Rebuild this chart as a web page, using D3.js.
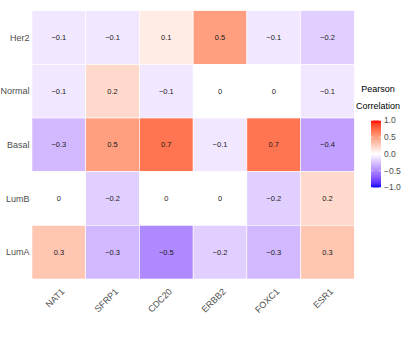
<!DOCTYPE html>
<html><head><meta charset="utf-8">
<script src="https://cdn.jsdelivr.net/npm/d3@7"></script>
<style>
body{margin:0;background:#fff;}
text{font-family:"Liberation Sans",Arial,Helvetica,sans-serif;}
</style></head>
<body><svg id="chart" width="415" height="342"></svg>
<script>
const genes = ["NAT1","SFRP1","CDC20","ERBB2","FOXC1","ESR1"];
const subtypes = ["Her2","Normal","Basal","LumB","LumA"];
const her2   = [-0.1,-0.1, 0.1, 0.5,-0.1,-0.2];
const normal = [-0.1, 0.2,-0.1, 0.0, 0.0,-0.1];
const basal  = [-0.3, 0.5, 0.7,-0.1, 0.7,-0.4];
const lumB   = [ 0.0,-0.2, 0.0, 0.0,-0.2, 0.2];
const lumA   = [ 0.3,-0.3,-0.5,-0.2,-0.3, 0.3];
const legendTicks = [-1.0,-0.5,0.0,0.5,1.0];

const rowsData = [her2, normal, basal, lumB, lumA];
const cells = [];
subtypes.forEach((s,i)=>genes.forEach((g,j)=>cells.push({row:s,col:g,v:rowsData[i][j]})));

const svg = d3.select("#chart");
const x = d3.scaleBand().domain(genes).range([32,354.3]);
const y = d3.scaleBand().domain(subtypes).range([10.7,279]);
const color = d3.scaleLinear().domain([-1,0,1]).range(["blue","white","red"]).interpolate(d3.interpolateLab);
const fmt = v => v===0 ? "0" : (v<0?"\u2212":"") + Math.abs(v).toFixed(1);

svg.append("g").selectAll("rect").data(cells).join("rect")
  .attr("x",d=>x(d.col)).attr("y",d=>y(d.row))
  .attr("width",x.bandwidth()).attr("height",y.bandwidth())
  .attr("fill",d=>color(d.v)).attr("stroke","#fff").attr("stroke-width",0.6);

svg.append("g").selectAll("text").data(cells).join("text")
  .attr("x",d=>x(d.col)+x.bandwidth()/2).attr("y",d=>y(d.row)+y.bandwidth()/2)
  .attr("text-anchor","middle").attr("dy","0.35em")
  .attr("font-size",7.5).attr("fill","#1a1a1a")
  .text(d=>fmt(d.v));

// y axis labels
svg.append("g").selectAll("text").data(subtypes).join("text")
  .attr("x",29.5).attr("y",d=>y(d)+y.bandwidth()/2)
  .attr("text-anchor","end").attr("dy","0.35em")
  .attr("font-size",9).attr("fill","#4d4d4d").text(d=>d);

// x axis labels
svg.append("g").selectAll("text").data(genes).join("text")
  .attr("transform",d=>`translate(${x(d)+x.bandwidth()/2+4},${290}) rotate(-45)`)
  .attr("text-anchor","end").attr("dy","0.35em")
  .attr("font-size",9).attr("fill","#4d4d4d").text(d=>d);

// legend
const lg = svg.append("g");
lg.append("text").attr("x",378).attr("y",92).attr("text-anchor","middle").attr("font-size",9).attr("fill","#000").text("Pearson");
lg.append("text").attr("x",378).attr("y",109).attr("text-anchor","middle").attr("font-size",9).attr("fill","#000").text("Correlation");
const ly = d3.scaleLinear().domain([-1,1]).range([187.5,120.5]);
const defs = svg.append("defs");
const grad = defs.append("linearGradient").attr("id","lgrad").attr("x1",0).attr("y1",1).attr("x2",0).attr("y2",0);
d3.range(0,21).forEach(i=>{const v=-1+i*0.1; grad.append("stop").attr("offset",i/20).attr("stop-color",color(v));});
lg.append("rect").attr("x",371).attr("y",ly(1)).attr("width",10).attr("height",ly(-1)-ly(1)).attr("fill","url(#lgrad)");
lg.selectAll("line.t").data(legendTicks).join("line")
  .attr("x1",371).attr("x2",373).attr("y1",d=>ly(d)).attr("y2",d=>ly(d)).attr("stroke","#fff").attr("stroke-width",0.6);
lg.selectAll("line.t2").data(legendTicks).join("line")
  .attr("x1",379).attr("x2",381).attr("y1",d=>ly(d)).attr("y2",d=>ly(d)).attr("stroke","#fff").attr("stroke-width",0.6);
lg.selectAll("text.l").data(legendTicks).join("text")
  .attr("x",384).attr("y",d=>ly(d)).attr("dy","0.35em")
  .attr("font-size",8.5).attr("fill","#4d4d4d")
  .text(d=>(d<0?"\u2212":"")+Math.abs(d).toFixed(1));
</script></body></html>
